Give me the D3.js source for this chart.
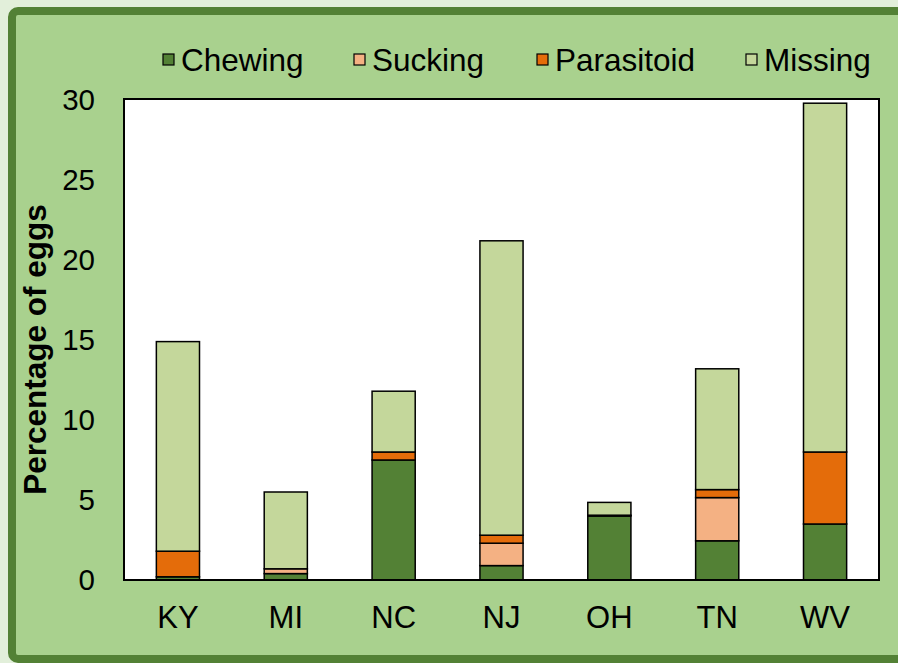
<!DOCTYPE html>
<html>
<head>
<meta charset="utf-8">
<script src="https://cdn.jsdelivr.net/npm/d3@7"></script>
<style>
  html, body { margin: 0; padding: 0; background: #e2efda; }
  svg { display: block; font-family: Arial, "Liberation Sans", sans-serif; }
</style>
</head>
<body>
<div id="wrapper"></div>
<script>
const states = ["KY", "MI", "NC", "NJ", "OH", "TN", "WV"];
const seriesNames = ["Chewing", "Sucking", "Parasitoid", "Missing"];
const chewing    = [0.2, 0.4, 7.5, 0.9, 4.0, 2.45, 3.5];
const sucking    = [0, 0.3, 0, 1.4, 0, 2.7, 0];
const parasitoid = [1.6, 0, 0.5, 0.5, 0.05, 0.5, 4.5];
const missing    = [13.1, 4.8, 3.8, 18.4, 0.8, 7.55, 21.8];
const yTicks = [0, 5, 10, 15, 20, 25, 30];
const colors = ["#538135", "#f4b183", "#e46c0a", "#c4d79b"];

function drawChart() {

    const dms = {
        width: 898,
        height: 663,
        plot: { left: 124, right: 879, top: 99, bottom: 580 }
    };

    const rows = states.map((s, i) => ({
        state: s,
        Chewing: chewing[i],
        Sucking: sucking[i],
        Parasitoid: parasitoid[i],
        Missing: missing[i]
    }));

    const stacked = d3.stack().keys(seriesNames)(rows);

    const svg = d3.select("#wrapper")
                    .append("svg")
                        .attr("width", dms.width)
                        .attr("height", dms.height);

    // frame
    svg.append("rect")
        .attr("x", 12).attr("y", 11)
        .attr("width", dms.width + 20).attr("height", 648)
        .attr("rx", 6)
        .attr("fill", "#a9d18e")
        .attr("stroke", "#538135")
        .attr("stroke-width", 8);

    const xScale = d3.scaleBand()
                    .domain(states)
                    .range([dms.plot.left, dms.plot.right])
                    .paddingInner(0.6)
                    .paddingOuter(0.3);

    const yScale = d3.scaleLinear()
                    .domain([0, 30])
                    .range([dms.plot.bottom, dms.plot.top + 1]);

    // plot area
    svg.append("rect")
        .attr("x", dms.plot.left)
        .attr("y", dms.plot.top)
        .attr("width", dms.plot.right - dms.plot.left)
        .attr("height", dms.plot.bottom - dms.plot.top)
        .attr("fill", "white");

    // bars
    svg.append("g")
        .selectAll("g")
        .data(stacked)
        .join("g")
            .attr("fill", (d, i) => colors[i])
        .selectAll("rect")
        .data(d => d.filter(p => p[1] - p[0] > 0))
        .join("rect")
            .attr("x", d => xScale(d.data.state))
            .attr("y", d => yScale(d[1]))
            .attr("width", xScale.bandwidth())
            .attr("height", d => yScale(d[0]) - yScale(d[1]))
            .attr("stroke", "black")
            .attr("stroke-width", 1.5);

    // plot border
    svg.append("rect")
        .attr("x", dms.plot.left)
        .attr("y", dms.plot.top)
        .attr("width", dms.plot.right - dms.plot.left)
        .attr("height", dms.plot.bottom - dms.plot.top)
        .attr("fill", "none")
        .attr("stroke", "black")
        .attr("stroke-width", 2);

    // y axis
    const yAxis = svg.append("g")
                    .attr("transform", `translate(${dms.plot.left}, 0)`)
                    .call(d3.axisLeft(yScale).tickValues(yTicks).tickSize(0).tickPadding(29));
    yAxis.select(".domain").remove();
    yAxis.selectAll("text")
        .attr("font-size", "29.5px")
        .attr("font-family", "Arial, 'Liberation Sans', sans-serif")
        .attr("fill", "black");

    // x axis
    const xAxis = svg.append("g")
                    .attr("transform", `translate(0, ${dms.plot.bottom})`)
                    .call(d3.axisBottom(xScale).tickSize(0).tickPadding(26));
    xAxis.select(".domain").remove();
    xAxis.selectAll("text")
        .attr("font-size", "31px")
        .attr("font-family", "Arial, 'Liberation Sans', sans-serif")
        .attr("fill", "black");

    // y title
    svg.append("text")
        .attr("transform", `translate(46, ${(dms.plot.top + dms.plot.bottom) / 2 + 10}) rotate(-90)`)
        .attr("text-anchor", "middle")
        .attr("font-size", "31.5px")
        .attr("font-weight", "bold")
        .text("Percentage of eggs");

    // legend
    const legendX = [163, 354, 537, 746];
    const legend = svg.append("g")
                    .selectAll("g")
                    .data(seriesNames)
                    .join("g")
                        .attr("transform", (d, i) => `translate(${legendX[i]}, 54)`);
    legend.append("rect")
        .attr("width", 11).attr("height", 11)
        .attr("fill", (d, i) => colors[i])
        .attr("stroke", "black")
        .attr("stroke-width", 1.2);
    legend.append("text")
        .attr("x", 18)
        .attr("y", 17)
        .attr("font-size", "31.5px")
        .text(d => d);
}

drawChart();
</script>
</body>
</html>
